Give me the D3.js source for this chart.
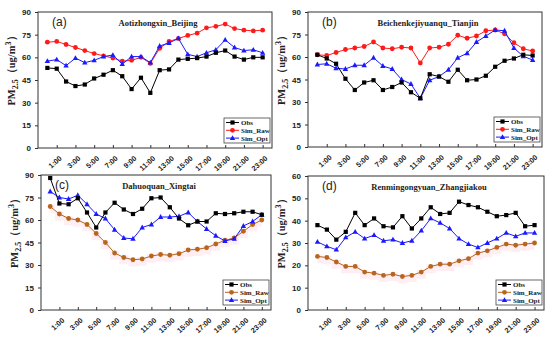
<!DOCTYPE html>
<html><head><meta charset="utf-8">
<script src="https://cdn.jsdelivr.net/npm/d3@7"></script>
<style>body{margin:0;background:#fff}svg{display:block}</style>
</head><body><svg id="c" width="550" height="337"></svg>
<script>
const hours = d3.range(24);
const xTickLabels = ["1:00","3:00","5:00","7:00","9:00","11:00","13:00","15:00","17:00","19:00","21:00","23:00"];
const seriesNames = ["Obs","Sim_Raw","Sim_Opt"];
const panelLetters = ["(a)","(b)","(c)","(d)"];
const stations = ["Aotizhongxin_Beijing","Beichenkejiyuanqu_Tianjin","Dahuoquan_Xingtai","Renmingongyuan_Zhangjiakou"];
const yMax = [90,90,90,60];
const yStep = [15,15,15,10];

const obsA = [53,52.5,44,41,42,46,48.5,51.5,47.5,39,46.5,36.5,51.5,52,58.5,59,59.5,60.5,63,64.5,60.5,58.5,60,60];
const rawA = [70,70.5,68.5,66.5,64.5,62.5,61,59.5,57.5,58,60,56,66,70.5,72.5,74.5,76,79.5,80.5,82,79,78,77.5,78];
const optA = [57.5,58.5,54.5,59.5,56.5,58,60.5,61.5,55.5,60.5,60.5,56.5,67.5,69.5,72.5,62,60.5,63,65,71.5,66.5,64.5,65,63];

const obsB = [61.5,59,55.5,45.5,38,43,44.5,38,40,43,36.5,32.5,48.5,47,43.5,51.5,44.5,45,47.5,53.5,57.5,59,61.5,61];
const rawB = [61.5,61,63,65,66,67,70,66,65.5,66.5,66,56,66,66.5,68.5,74.5,72.5,74,77.5,78,75.5,69.5,65.5,64];
const optB = [55,55.5,52.5,52,54.5,54.5,59.5,54,52,45,42,32.5,44.5,47,51.5,59.5,62.5,70,74,78,77.5,66,60.5,58];

const obsC = [88,71,70.5,74.5,65,55,65,71.5,67,64,67.5,74.5,75,68.5,61,56.5,59,59,64.5,64,64.5,65.5,65.5,63.5];
const rawC = [69,64,61,60,57,51,45,38,35,33.5,34,36,37,36.5,37.5,40,40.5,41.5,44,46.5,48,52.5,57,60];
const optC = [79,75,74,76.5,70.5,64,61,53.5,48,47.5,55,57,62,62,62.5,65,59,54,49.5,46,47.5,56,59,63.5];

const obsD = [38,36,31.5,35,43.5,38,41,37.5,37,42,36.5,41,46,43,43.5,48.5,47,46,44,42,42.5,43.5,37.5,38];
const rawD = [24,23.5,21.5,19.5,19.5,17,16.5,15.5,16,15,15.5,17,19.5,20.5,20.5,22,23,25.5,26.5,28,29.5,29,29.5,30];
const optD = [30.5,28.5,27,32.5,35,32,33.5,31,31.5,30,31,35.5,41,39,36.5,32,29.5,28,30,32,34.5,33,34.5,34.5];

const panelData = [[obsA,rawA,optA],[obsB,rawB,optB],[obsC,rawC,optC],[obsD,rawD,optD]];

const boxes = [
  {l:38,t:12,r:272,b:148},
  {l:308,t:12,r:542,b:147},
  {l:41,t:175,r:271,b:310},
  {l:308,t:176,r:544,b:310}
];
const colorsAB = ["#000000","#ff1a1a","#1a1aff"];
const colorsCD = ["#000000","#b8651e","#1a1aff"];

const svg = d3.select("#c");
const serif = "'Liberation Serif','Times New Roman',serif";
const sans = "'Liberation Sans',Arial,sans-serif";

function marker(g, type, x, y, color){
  if(type===0){
    g.append("rect").attr("x",x-2.1).attr("y",y-2.1).attr("width",4.2).attr("height",4.2).attr("fill",color);
  } else if(type===1){
    g.append("circle").attr("cx",x).attr("cy",y).attr("r",2.4).attr("fill",color);
  } else {
    g.append("path").attr("d",`M${x},${y-2.9}L${x+2.7},${y+1.9}L${x-2.7},${y+1.9}Z`).attr("fill",color);
  }
}

panelData.forEach((series,pi)=>{
  const bx = boxes[pi];
  const colors = pi<2 ? colorsAB : colorsCD;
  const x = d3.scaleLinear().domain([-1,24]).range([bx.l,bx.r]);
  const y = d3.scaleLinear().domain([0,yMax[pi]]).range([bx.b,bx.t]);
  const g = svg.append("g");

  if(pi>=2){
    const band = d3.area().x((d,i)=>x(hours[i])).y0(d=>y(d-yMax[pi]*0.05)).y1(d=>y(d+yMax[pi]*0.015)).curve(d3.curveStep);
    g.append("path").datum(series[1]).attr("d",band).attr("fill","#ffe8f0").attr("opacity",0.7);
  }

  g.append("rect").attr("x",bx.l).attr("y",bx.t).attr("width",bx.r-bx.l).attr("height",bx.b-bx.t)
    .attr("fill","none").attr("stroke","#333").attr("stroke-width",1);

  const yTicks = d3.range(0,yMax[pi]+0.1,yStep[pi]);
  const ya = g.append("g").attr("transform",`translate(${bx.l},0)`)
    .call(d3.axisLeft(y).tickValues(yTicks).tickSize(3).tickPadding(4).tickFormat(d3.format("d")));
  ya.select(".domain").remove();
  ya.selectAll("line").attr("stroke","#333");
  ya.selectAll("text").attr("font-family",sans).attr("font-weight","bold").attr("font-size","8px").attr("fill","#222");

  const xTickVals = xTickLabels.map(s=>+s.split(":")[0]);
  const xa = g.append("g").attr("transform",`translate(0,${bx.b})`)
    .call(d3.axisBottom(x).tickValues(xTickVals).tickSize(-3).tickFormat((d,i)=>xTickLabels[i]));
  xa.select(".domain").remove();
  xa.selectAll("line").attr("stroke","#333");
  xa.selectAll("text").attr("font-family",sans).attr("font-weight","bold").attr("font-size","7.3px").attr("fill","#222")
    .attr("text-anchor","end").attr("dy",0).attr("y",0)
    .attr("transform","translate(5,11) rotate(-42)");

  [1,2,0].forEach(si=>{
    const line = d3.line().x((d,i)=>x(hours[i])).y(d=>y(d));
    g.append("path").datum(series[si]).attr("d",line).attr("fill","none").attr("stroke",colors[si]).attr("stroke-width",1);
    series[si].forEach((v,i)=>marker(g,si,x(hours[i]),y(v),colors[si]));
  });

  g.append("text").attr("x",bx.l+14).attr("y",bx.t+14).text(panelLetters[pi])
    .attr("font-family",sans).attr("font-size","12px").attr("fill","#222");
  g.append("text").attr("x",(bx.l+bx.r)/2+3).attr("y",bx.t+14).attr("text-anchor","middle").text(stations[pi])
    .attr("font-family",serif).attr("font-weight","bold").attr("font-size","8.5px").attr("fill","#222");

  const yl = g.append("text").attr("transform",`translate(${bx.l-23},${(bx.t+bx.b)/2-12}) rotate(-90)`)
    .attr("text-anchor","middle").attr("font-family",serif).attr("font-weight","bold").attr("font-size","10.5px").attr("fill","#222");
  yl.append("tspan").text("PM");
  yl.append("tspan").attr("dy",3).attr("font-size","8px").text("2.5");
  yl.append("tspan").attr("dy",-3).text("（ug/m");
  yl.append("tspan").attr("dy",-4).attr("font-size","8px").text("3");
  yl.append("tspan").attr("dy",4).text("）");

  const lw=46, lh=25;
  const lx = bx.r-lw-2, ly = bx.b-lh-5;
  const lg = g.append("g");
  lg.append("rect").attr("x",lx).attr("y",ly).attr("width",lw).attr("height",lh).attr("fill","#fff").attr("stroke","#444").attr("stroke-width",0.8);
  seriesNames.forEach((n,si)=>{
    const yy = ly+4.5+si*7.8;
    lg.append("line").attr("x1",lx+2).attr("x2",lx+15).attr("y1",yy).attr("y2",yy).attr("stroke",colors[si]).attr("stroke-width",1);
    marker(lg,si,lx+8.5,yy,colors[si]);
    lg.append("text").attr("x",lx+17).attr("y",yy+2.5).text(n)
      .attr("font-family",serif).attr("font-weight","bold").attr("font-size","7px").attr("fill","#222");
  });
});
</script></body></html>
